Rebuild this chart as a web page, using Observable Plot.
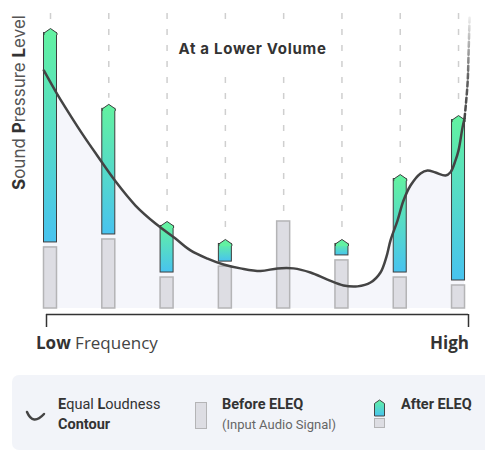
<!DOCTYPE html>
<html><head><meta charset="utf-8">
<script src="https://cdn.jsdelivr.net/npm/d3@7"></script>
<script src="https://cdn.jsdelivr.net/npm/@observablehq/plot@0.6"></script>
<style>
body{margin:0;background:#fff;}
#wrap{position:relative;width:485px;height:450px;overflow:hidden;}
#legend{position:absolute;left:12px;top:375px;width:473px;height:75px;background:#f2f4f9;border-radius:7px 0 0 7px;}
</style></head><body><div id="wrap"><div id="chart"></div><div id="legend"></div></div>
<script>
// ---- data ----
const bands = [0, 1, 2, 3, 4, 5, 6, 7];
const beforeLevel = [20.7, 23.4, 10.5, 14.2, 29.5, 16.3, 10.5, 7.8];
const afterLevel = [94.9, 69.2, 29.5, 23.4, null, 23.4, 45.4, 65.4];
const contourX = [-0.115, 0.120, 0.343, 0.566, 0.789, 1.115, 1.458, 1.801, 2.144, 2.402, 2.694, 2.968, 3.260, 3.603, 3.894, 4.169, 4.460, 4.752, 5.027, 5.267, 5.490, 5.661, 5.764, 5.833, 5.953, 6.056, 6.176, 6.348, 6.468, 6.605, 6.777, 6.862, 6.948, 7.000, 7.069, 7.103];
const contourY = [80.7, 72.5, 65.4, 58.6, 52.2, 43.1, 34.9, 28.8, 23.7, 19.7, 16.9, 14.9, 13.6, 12.7, 13.6, 13.6, 12.2, 9.8, 7.8, 7.5, 8.8, 12.2, 17.6, 23.1, 29.8, 36.6, 41.7, 45.8, 46.8, 46.1, 45.1, 46.2, 50.2, 53.6, 61.4, 64.4];
const contourDashX = [7.103, 7.155, 7.172, 7.189];
const contourDashY = [64.4, 76.3, 86.4, 98.6];
const xDomain = [-0.0686, 7.171];

const titleText = "At a Lower Volume";

const data = bands.map((b, k) => ({i: b, before: beforeLevel[k], after: afterLevel[k]}));
const withAfter = data.filter(d => d.after != null);
const contour = contourX.map((x, k) => ({x, y: contourY[k]}));
const dashed = contourDashX.map((x, k) => ({x, y: contourDashY[k]}));

const W = 485, H = 372, ML = 46, MR = 17, MT = 13, MB = 64;
const pxPerUnit = (W - ML - MR) / (xDomain[1] - xDomain[0]);
const BAR = 13;
const inset = (pxPerUnit - BAR) / 2;

const capSymbol = {
  draw(ctx, size) {
    const r = Math.sqrt(size / Math.PI);
    const h = 4.5;
    ctx.moveTo(-r, h + 2);
    ctx.lineTo(-r, h);
    ctx.lineTo(0, 0);
    ctx.lineTo(r, h);
    ctx.lineTo(r, h + 2);
  }
};

const defs = () => {
  const d = d3.create("svg:defs");
  const g = d.append("linearGradient").attr("id", "barGrad").attr("x1", 0).attr("y1", 0).attr("x2", 0).attr("y2", 1);
  g.append("stop").attr("offset", 0).attr("stop-color", "#62f1a2");
  g.append("stop").attr("offset", 1).attr("stop-color", "#48c3ef");
  const f = d.append("linearGradient").attr("id", "fadeGrad").attr("x1", 0).attr("y1", 0).attr("x2", 0).attr("y2", 1);
  f.append("stop").attr("offset", 0).attr("stop-color", "#444").attr("stop-opacity", 0.1);
  f.append("stop").attr("offset", 0.6).attr("stop-color", "#444").attr("stop-opacity", 0.85);
  f.append("stop").attr("offset", 1).attr("stop-color", "#444").attr("stop-opacity", 1);
  return d.node();
};

const chart = Plot.plot({
  width: W, height: H,
  marginLeft: ML, marginRight: MR, marginTop: MT, marginBottom: MB,
  x: {domain: xDomain, axis: null},
  y: {domain: [0, 100], axis: null},
  style: {background: "transparent", overflow: "visible"},
  marks: [
    defs,
    Plot.areaY(contour, {x: "x", y: "y", fill: "#f5f6fb", curve: "catmull-rom"}),
    Plot.ruleX(data, {x: "i", y1: 100, y2: d => d.after ?? d.before, insetBottom: 6, stroke: "#cfcfcf", strokeWidth: 1.5, strokeDasharray: "6,10"}),
    Plot.rect(data, {x1: d => d.i - 0.5, x2: d => d.i + 0.5, y1: 0, y2: "before", insetLeft: inset, insetRight: inset, fill: "#dddde3", stroke: "#b4b4b6", strokeWidth: 1.5}),
    Plot.rect(withAfter, {x1: d => d.i - 0.5, x2: d => d.i + 0.5, y1: "before", y2: "after", insetLeft: inset, insetRight: inset, insetTop: 4.5, insetBottom: 5, fill: "url(#barGrad)", stroke: "#3d3d3d", strokeWidth: 1}),
    Plot.dot(withAfter, {x: "i", y: "after", r: BAR / 2, symbol: capSymbol, fill: "#62f1a2", stroke: "#3d3d3d", strokeWidth: 1}),
    Plot.line(contour, {x: "x", y: "y", curve: "catmull-rom", stroke: "#444", strokeWidth: 2.5}),
    Plot.line(dashed, {x: "x", y: "y", curve: "catmull-rom", stroke: "url(#fadeGrad)", strokeWidth: 2.5, strokeDasharray: "5,3"}),
    Plot.ruleY([0], {dy: 6, stroke: "#333", strokeWidth: 1.5}),
    Plot.ruleX(xDomain, {y1: 0, y2: 0, insetTop: 6, insetBottom: -19, stroke: "#333", strokeWidth: 1.5})
  ]
});
document.getElementById("chart").appendChild(chart);

const svg = d3.select(chart);
// title with white backing
const tg = svg.append("g");
const tt = tg.append("text").attr("x", 252.5).attr("y", 54).attr("text-anchor", "middle")
  .attr("font-family", "Inter, sans-serif").attr("font-weight", 700).attr("font-size", 15)
  .attr("letter-spacing", 0.7).attr("fill", "#333").text(titleText);
const bb = tt.node().getBBox();
tg.insert("rect", "text").attr("x", bb.x - 7).attr("y", 20).attr("width", bb.width + 14).attr("height", 56).attr("fill", "#fff");

// y label
const yl = svg.append("text").attr("transform", "translate(25,102.5) rotate(-90)").attr("text-anchor", "middle")
  .attr("font-family", "Inter, sans-serif").attr("font-size", 17).attr("fill", "#555");
[["S", 1], ["ound ", 0], ["P", 1], ["ressure ", 0], ["L", 1], ["evel", 0]].forEach(([t, b]) =>
  yl.append("tspan").attr("font-weight", b ? 700 : 400).attr("fill", b ? "#333" : "#555").text(t));

// bottom labels
const lo = svg.append("text").attr("x", 36).attr("y", 349).attr("text-anchor", "start").attr("font-family", "'Open Sans', sans-serif").attr("font-size", 17).attr("fill", "#333");
lo.append("tspan").attr("font-weight", 700).text("Low");
lo.append("tspan").attr("font-weight", 400).attr("fill", "#444").text(" Frequency");
svg.append("text").attr("x", 469).attr("y", 349).attr("text-anchor", "end").attr("font-family", "'Open Sans', sans-serif")
  .attr("font-size", 17).attr("font-weight", 700).attr("fill", "#333").text("High");

// legend
const lg = d3.select("#legend").append("svg").attr("width", 473).attr("height", 75)
  .attr("font-family", "Roboto, sans-serif");
const ld = lg.append("defs").append("linearGradient").attr("id", "legGrad").attr("x1", 0).attr("y1", 0).attr("x2", 0).attr("y2", 1);
ld.append("stop").attr("offset", 0).attr("stop-color", "#62f1a2");
ld.append("stop").attr("offset", 1).attr("stop-color", "#48c3ef");
lg.append("path").attr("d", "M15,37 Q21,51 32,39").attr("fill", "none").attr("stroke", "#444").attr("stroke-width", 2.5).attr("stroke-linecap", "round");
const e1 = lg.append("text").attr("x", 46).attr("y", 34).attr("font-size", 14.5).attr("fill", "#333");
[["E", 1], ["qual ", 0], ["L", 1], ["oudness", 0]].forEach(([t, b]) => e1.append("tspan").attr("font-weight", b ? 700 : 400).text(t));
lg.append("text").attr("x", 46).attr("y", 54).attr("font-size", 14.5).attr("font-weight", 700).attr("fill", "#333").text("Contour");
lg.append("rect").attr("x", 183.5).attr("y", 27.5).attr("width", 11).attr("height", 26).attr("fill", "#dddde3").attr("stroke", "#b4b4b6");
lg.append("text").attr("x", 210).attr("y", 34).attr("font-size", 14.5).attr("font-weight", 700).attr("fill", "#333").text("Before ELEQ");
lg.append("text").attr("x", 210).attr("y", 54).attr("font-size", 13).attr("fill", "#666").text("(Input Audio Signal)");
lg.append("path").attr("d", "M362.5,41 L362.5,28.5 L367.5,25 L372.5,28.5 L372.5,41 Z").attr("fill", "url(#legGrad)").attr("stroke", "#444");
lg.append("rect").attr("x", 362.5).attr("y", 43.5).attr("width", 10).attr("height", 9).attr("fill", "#dddde3").attr("stroke", "#b4b4b6");
lg.append("text").attr("x", 389).attr("y", 34).attr("font-size", 14.5).attr("font-weight", 700).attr("fill", "#333").text("After ELEQ");
</script></body></html>
